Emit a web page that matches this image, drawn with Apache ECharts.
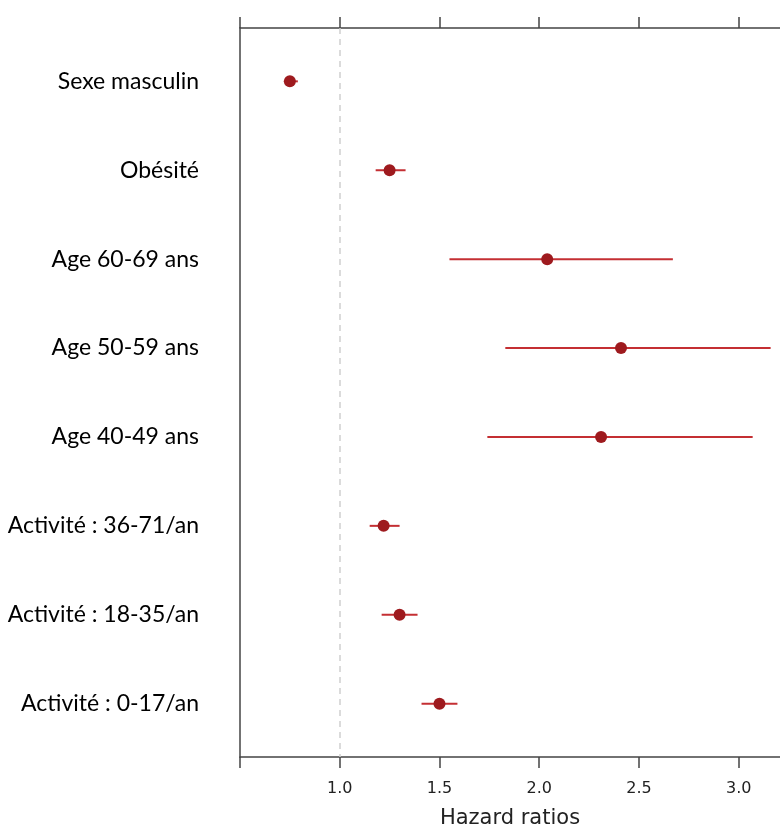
<!DOCTYPE html>
<html>
<head>
<meta charset="utf-8">
<script src="https://cdn.jsdelivr.net/npm/echarts@6/dist/echarts.min.js"></script>
<style>
  html, body { margin: 0; padding: 0; background: #fff; }
  #chart { width: 780px; height: 828px; }
</style>
</head>
<body>
<div id="chart"></div>
<script>
// Risk factors, listed top to bottom
const categories = [
  'Sexe masculin',
  'Obésité',
  'Age 60-69 ans',
  'Age 50-59 ans',
  'Age 40-49 ans',
  'Activité : 36-71/an',
  'Activité : 18-35/an',
  'Activité : 0-17/an'
];
// Hazard ratio estimates and 95% confidence bounds
const hazardRatio = [0.75, 1.25, 2.04, 2.41, 2.31, 1.22, 1.30, 1.50];
const ciLower     = [0.72, 1.18, 1.55, 1.83, 1.74, 1.15, 1.21, 1.41];
const ciUpper     = [0.79, 1.33, 2.67, 3.16, 3.07, 1.30, 1.39, 1.59];
// Horizontal axis ticks (0.5 is ticked but not labelled)
const xTicks = [0.5, 1.0, 1.5, 2.0, 2.5, 3.0];
const xTickLabels = [1.0, 1.5, 2.0, 2.5, 3.0];
const referenceValue = 1.0;

const axisColor = '#444';
const lineRed = '#c42f33';
const pointRed = '#9e1a1e';

const rowIdx = categories.map((_, i) => i);
const pointData = hazardRatio.map((v, i) => [v, i]);
const ciData = hazardRatio.map((_, i) => [ciLower[i], ciUpper[i], i]);

const chart = echarts.init(document.getElementById('chart'), null, { renderer: 'canvas' });

const xCommon = {
  type: 'value',
  min: 0.5,
  max: 3.207,
  interval: 0.5,
  splitLine: { show: false },
  axisLine: { show: true, onZero: false, lineStyle: { color: axisColor, width: 1.5 } },
  axisTick: {
    show: true, length: 11, inside: false,
    customValues: xTicks,
    lineStyle: { color: axisColor, width: 1.5 }
  }
};

chart.setOption({
  animation: false,
  grid: {
    left: 240, right: 0, top: 28, bottom: 71,
    containLabel: false,
    outerBoundsMode: 'none'
  },
  xAxis: [
    Object.assign({}, xCommon, {
      position: 'bottom',
      name: 'Hazard ratios',
      nameLocation: 'middle',
      nameGap: 51,
      nameTextStyle: { fontFamily: 'DejaVu Sans', fontSize: 21, color: '#222' },
      axisLabel: {
        show: true,
        margin: 24,
        fontFamily: 'DejaVu Sans',
        fontSize: 16,
        color: '#222',
        customValues: xTickLabels,
        formatter: v => v.toFixed(1)
      }
    }),
    Object.assign({}, xCommon, {
      position: 'top',
      axisLabel: { show: false }
    })
  ],
  yAxis: {
    type: 'value',
    inverse: true,
    min: -0.6,
    max: 7.6,
    splitLine: { show: false },
    axisLine: { show: true, onZero: false, lineStyle: { color: axisColor, width: 1.5 } },
    axisTick: { show: false },
    axisLabel: {
      show: true,
      margin: 41,
      fontFamily: 'Lato',
      fontSize: 23,
      color: '#000',
      customValues: rowIdx,
      formatter: v => categories[Math.round(v)]
    }
  },
  series: [
    {
      type: 'custom',
      xAxisIndex: 0,
      data: ciData,
      encode: { x: [0, 1], y: 2 },
      renderItem: (params, api) => {
        const a = api.coord([api.value(0), api.value(2)]);
        const b = api.coord([api.value(1), api.value(2)]);
        return {
          type: 'line',
          shape: { x1: a[0], y1: a[1], x2: b[0], y2: b[1] },
          style: { stroke: lineRed, lineWidth: 2 }
        };
      },
      markLine: {
        silent: true,
        symbol: 'none',
        label: { show: false },
        lineStyle: { color: '#cfcfcf', type: [6, 5], width: 1.5 },
        data: [{ xAxis: referenceValue }]
      },
      z: 2
    },
    {
      type: 'scatter',
      xAxisIndex: 0,
      data: pointData,
      symbol: 'circle',
      symbolSize: 12,
      itemStyle: { color: pointRed, opacity: 1 },
      z: 3
    }
  ]
});
</script>
</body>
</html>
